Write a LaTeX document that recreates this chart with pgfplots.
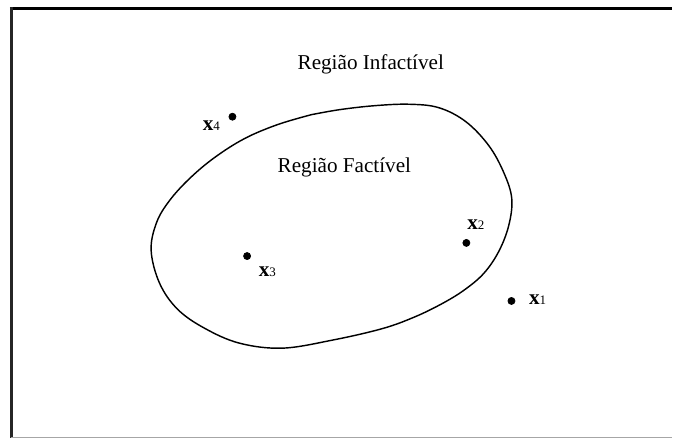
\documentclass[border=0pt]{standalone}
\usepackage{fontspec}
\setmainfont{Liberation Serif}
\usepackage{pgfplots}
\pgfplotsset{compat=1.18}
\newcommand{\lbl}[2]{{\fontsize{10.6}{12}\selectfont\bfseries #1}{\fontsize{6.5}{7}\selectfont #2}}
\begin{document}
\begin{tikzpicture}
\begin{axis}[
  hide axis, scale only axis,
  width=337pt, height=219.5pt,
  xmin=0, xmax=674, ymin=0, ymax=439,
  clip=false,
]
% invisible extent
\addplot[draw=none, forget plot] coordinates {(0,0) (674,439)};
% frame
\addplot[black, line width=1.65pt, forget plot] coordinates {(10,430.6) (674,430.6)};
\addplot[black!85, line width=1.65pt, forget plot] coordinates {(11.7,0) (11.7,432.2)};
\addplot[gray!70, line width=0.65pt, forget plot] coordinates {(11,0.7) (674,0.7)};
% feasible region boundary
\addplot[black, line width=0.72pt, smooth, tension=0.6] coordinates {
(312,324) (340,329) (375,333) (410,334.5) (440,331) (467,317) (490,293)
(505,266) (513,240) (510,213) (500,187) (485,165) (465,148) (442,134)
(415,121) (383,109.5) (333,98) (283,90) (240,95) (205,110) (178,129)
(160,155) (151.5,188) (157,216) (170,238) (190,260) (215,281) (245,300)
(278,314) (312,324)
};
% points
\addplot[only marks, mark=*, mark size=1.75pt, black] coordinates {
(233,322) (247.7,182.3) (467.5,195.5) (512.7,137.3)
};
\node[anchor=base west, inner sep=0pt] at (axis cs:298,369.7) {\fontsize{10.6}{12}\selectfont Região Infactível};
\node[anchor=base west, inner sep=0pt] at (axis cs:278,266) {\fontsize{10.6}{12}\selectfont Região Factível};
\node[anchor=base west, inner sep=0pt] at (axis cs:203,308) {\lbl{x}{4}};
\node[anchor=base west, inner sep=0pt] at (axis cs:259,162.3) {\lbl{x}{3}};
\node[anchor=base west, inner sep=0pt] at (axis cs:468,209) {\lbl{x}{2}};
\node[anchor=base west, inner sep=0pt] at (axis cs:530,133.3) {\lbl{x}{1}};
\end{axis}
\end{tikzpicture}
\end{document}
